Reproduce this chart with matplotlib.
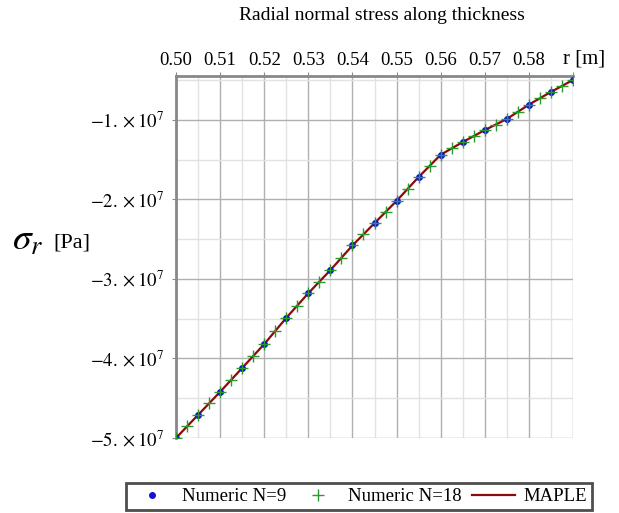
import matplotlib.pyplot as plt
import numpy as np

plt.rcParams['font.family'] = ['Liberation Serif', 'DejaVu Serif']
plt.rcParams['mathtext.fontset'] = 'stix'

# radius [m]
r9 = [0.500, 0.505, 0.510, 0.515, 0.520, 0.525, 0.530, 0.535, 0.540, 0.545,
      0.550, 0.555, 0.560, 0.565, 0.570, 0.575, 0.580, 0.585, 0.590]
# sigma_r [1e7 Pa]
s9 = [-5.00, -4.71, -4.42, -4.12, -3.82, -3.49, -3.18, -2.89, -2.58, -2.30,
      -2.02, -1.72, -1.44, -1.28, -1.13, -0.99, -0.81, -0.65, -0.50]

r18 = [0.5000, 0.5025, 0.5050, 0.5075, 0.5100, 0.5125, 0.5150, 0.5175, 0.5200,
       0.5225, 0.5250, 0.5275, 0.5300, 0.5325, 0.5350, 0.5375, 0.5400, 0.5425,
       0.5450, 0.5475, 0.5500, 0.5525, 0.5550, 0.5575, 0.5600, 0.5625, 0.5650,
       0.5675, 0.5700, 0.5725, 0.5750, 0.5775, 0.5800, 0.5825, 0.5850, 0.5875,
       0.5900]
s18 = [-5.00, -4.855, -4.71, -4.565, -4.42, -4.27, -4.12, -3.97, -3.82,
       -3.655, -3.49, -3.335, -3.18, -3.035, -2.89, -2.735, -2.58, -2.44,
       -2.30, -2.16, -2.02, -1.87, -1.72, -1.58, -1.44, -1.36, -1.28,
       -1.205, -1.13, -1.06, -0.99, -0.90, -0.81, -0.73, -0.65, -0.575,
       -0.50]

xticks = [0.50, 0.51, 0.52, 0.53, 0.54, 0.55, 0.56, 0.57, 0.58]
yticks = [-5, -4, -3, -2, -1]

fig = plt.figure(figsize=(6.19, 5.13), dpi=100)
ax = fig.add_axes([176/619, 1-438/513, (573-176)/619, (438-76)/513])

s9 = np.array(s9) * 1e7
s18 = np.array(s18) * 1e7

ax.plot(r18, s18, color='#8b0a0a', lw=1.6, label='MAPLE', zorder=3)
ax.plot(r9, s9, 'o', color='#1010e0', ms=4, label='Numeric N=9', zorder=4)
ax.plot(r18, s18, '+', color='#2a9a2a', ms=9, mew=1.0, label='Numeric N=18', zorder=5)

ax.set_xlim(0.50, 0.59)
ax.set_ylim(-5.0e7, -0.45e7)

ax.set_xticks(np.arange(0.50, 0.5901, 0.01))
ax.set_xticklabels(['%.2f' % t for t in xticks] + [''])
ax.set_xticks(np.arange(0.505, 0.59, 0.01), minor=True)
ax.set_yticks(np.array(yticks) * 1e7)
ax.set_yticklabels([r'$-%d.\times10^{7}$' % (-t) for t in yticks])
ax.set_yticks(np.array([-4.5, -3.5, -2.5, -1.5, -0.5]) * 1e7, minor=True)

ax.xaxis.tick_top()
ax.tick_params(axis='both', which='major', labelsize=13.5, direction='out',
               length=3, color='#888888', pad=2)
ax.tick_params(axis='y', which='major', pad=6)
ax.tick_params(axis='both', which='minor', length=0)
ax.grid(which='major', color='#b0b0b0', lw=1.0)
ax.grid(which='minor', color='#e2e2e2', lw=1.0)
ax.set_axisbelow(True)

for side in ['right', 'bottom']:
    ax.spines[side].set_visible(False)
for side in ['left', 'top']:
    ax.spines[side].set_color('#888888')
    ax.spines[side].set_linewidth(2)

ax.text(0.5925, -0.36e7, 'r [m]', fontsize=15, ha='center', va='bottom')
fig.text(382/619, 1-16/513, 'Radial normal stress along thickness',
         ha='center', va='center', fontsize=14)
fig.text(12/619, 1-241/513, r'$\sigma_{r}$', fontsize=27, ha='left', va='center')
fig.text(53/619, 1-243/513, '[Pa]', fontsize=16, ha='left', va='center')

h, l = ax.get_legend_handles_labels()
leg = fig.legend([h[1], h[2], h[0]], [l[1], l[2], l[0]], loc='center',
                 bbox_to_anchor=(359/619, 1-496.5/513), ncol=3, fontsize=13.5,
                 frameon=True, fancybox=False, edgecolor='#222222',
                 handlelength=2.3, columnspacing=0.55, borderpad=0.25,
                 handletextpad=0.45, borderaxespad=0)
leg.get_frame().set_linewidth(2)

fig.savefig('out.png', dpi=100)
